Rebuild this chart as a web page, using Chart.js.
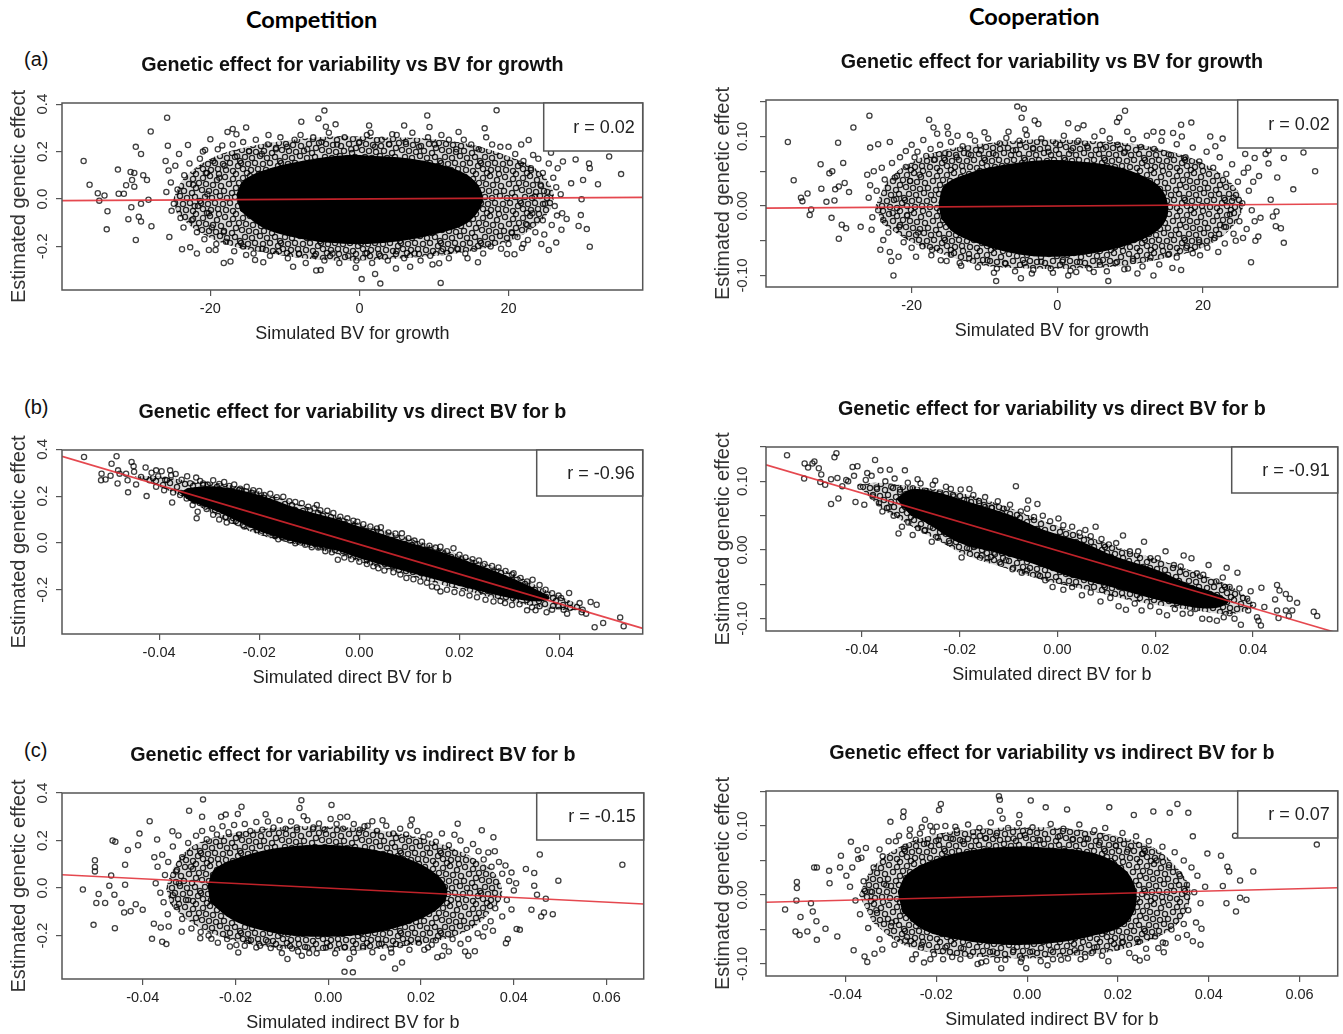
<!DOCTYPE html>
<html>
<head>
<meta charset="utf-8">
<title>Genetic effect for variability</title>
<script src="https://cdn.jsdelivr.net/npm/chart.js@4"></script>
<style>
  html, body { margin: 0; padding: 0; background: #fff; overflow: hidden; }
  body { width: 1343px; height: 1034px; position: relative; }
  canvas { position: absolute; }
  .head { position: absolute; font: bold 23.5px Lato, sans-serif; color: #000; }
  .tag { position: absolute; font: 20px "Liberation Sans", sans-serif; color: #111; }
</style>
</head>
<body>
<div class="head" style="left:246px;top:5px">Competition</div>
<div class="head" style="left:969px;top:2px">Cooperation</div>
<div class="tag" style="left:24px;top:48px">(a)</div>
<div class="tag" style="left:24px;top:396px">(b)</div>
<div class="tag" style="left:24px;top:739px">(c)</div>
<canvas id="compGrowth"></canvas>
<canvas id="coopGrowth"></canvas>
<canvas id="compDirect"></canvas>
<canvas id="coopDirect"></canvas>
<canvas id="compIndirect"></canvas>
<canvas id="coopIndirect"></canvas>
<script>
// ...Edge arrays are rougher estimates where the rings start to overlap.
// The merged middle of each cloud is not individual data: it is two outlines read the same way,
// a solid core and a shell filled with a ring texture (see ringTile), so no values are implied there.
const compGrowthPts = [[-37,.16],[-36.2,.06],[-35.1,.024],[-34.2,.015],[-34.9,-.007],[-33.8,-.052],[-33.9,-.128],[-32.4,.124],[-32.3,.022],[-31.6,.022],[-31.3,.058],[-30.7,.114],[-30.2,.11],[-30,.22],[-29.3,.19],[-29,.1],[-28.5,.08],[-28,.285],[-25.8,.343],[-25.7,.225],[-30.5,.08],[-30.2,.052],[-28.3,-.003],[-29.3,-.02],[-30.6,-.035],[-31,-.085],[-29.6,-.075],[-29.3,-.095],[-27.9,-.115],[-30,-.173],[-25.5,-.16],[-23.8,-.212],[-23,.228],[-21.8,-.23],[-20,.252],[-20.7,.207],[-18.4,.226],[-17.7,.283],[-17,.295],[-16.5,.273],[-15.2,.302],[-12.2,.27],[-7.8,.326],[-5.5,.34],[-4.7,.373],[-4.5,.305],[-3.2,.315],[1.3,.31],[1.5,.28],[4.4,.273],[6,.31],[9.1,.352],[9.4,.304],[13.3,.283],[16.8,.298],[18.4,.374],[17,.26],[22.7,.249],[23.3,.186],[25.7,.195],[27.3,.158],[29,.167],[30.8,.15],[33.5,.179],[35.1,.105],[32,.062],[28.4,.066],[30.9,.13],[30,.08],[29.8,-.001],[29.7,-.068],[29.4,-.114],[30.5,-.127],[30.9,-.201],[27.8,-.084],[27.1,-.13],[26.4,-.184],[25.4,-.215],[24.4,-.19],[22.6,-.173],[21.8,-.207],[20.8,-.233],[19.8,-.232],[15.9,-.267],[14.5,-.25],[10.9,-.354],[10.7,-.271],[9.8,-.276],[6.8,-.286],[4.9,-.293],[2.8,-.357],[2.1,-.316],[.3,-.338],[-.5,-.29],[-5.2,-.3],[-5.8,-.302],[-8.9,-.286],[-12.9,-.267],[-14,-.257],[-15.2,-.236],[-17.3,-.264],[-18.2,-.27],[-19.3,-.215],[-20.2,-.215],[-22.7,-.204]];
const compGrowthEdge = [[-26,.16],[-25.6,.12],[-25.3,.07],[-25.9,.03],[-24.7,.14],[-24.2,.19],[-24.4,.04],[-24.9,-.02],[-25.2,-.05],[-24,-.08],[-23.6,-.12],[-23.5,.1],[-22.8,.15],[-22.3,.06],[-22.1,-.03],[-22.5,-.09],[-21.8,-.14],[-21.4,.17],[-21,.2],[-20.6,.11],[-20.4,.02],[-20.2,-.06],[-20.8,-.17],[-19.8,-.12],[-19.6,.16],[-19,.21],[-18.8,.09],[-19.2,-.19],[-18.2,-.14],[-18.1,.14],[-17,.23],[-16.4,.18],[-15.6,.24],[-14.8,.2],[-13.9,.25],[-13.1,.19],[-12.3,.23],[-11.2,.21],[-10.6,.26],[-9.7,.22],[-8.7,.25],[-7.9,.27],[-7,.21],[-6.2,.26],[-5.1,.24],[-4.1,.28],[-3,.23],[-2,.26],[-1.1,.21],[0,.24],[1,.27],[2.1,.22],[3,.25],[4,.23],[5,.27],[6.2,.24],[7.1,.28],[8,.22],[9.2,.26],[10.1,.23],[11,.27],[12,.25],[13,.21],[14,.25],[15,.23],[16,.21],[17.8,.23],[18.9,.22],[20,.22],[20.9,.19],[21.7,.23],[22,.16],[23,.13],[24,.17],[24.6,.11],[25.4,.15],[26,.09],[26.6,.13],[24.3,.06],[25.2,.03],[26.4,.05],[27,.02],[23.5,.01],[24.9,-.02],[26.2,-.03],[27.2,-.06],[23.2,-.06],[24.6,-.09],[25.8,-.11],[26.5,-.07],[22.5,-.11],[23.6,-.14],[24.8,-.15],[21.2,-.16],[22,-.19],[20,-.19],[20.4,-.14],[19,-.21],[17.6,-.2],[16.6,-.23],[15.4,-.21],[14.2,-.23],[13.1,-.21],[12,-.25],[11,-.22],[9.5,-.24],[8.2,-.26],[7.4,-.23],[6,-.25],[5,-.22],[3.8,-.26],[2.8,-.24],[1.7,-.27],[.8,-.23],[-.4,-.26],[-1.5,-.24],[-2.7,-.27],[-3.6,-.23],[-4.7,-.26],[-6,-.24],[-7.2,-.27],[-8.1,-.23],[-9.6,-.25],[-10.8,-.22],[-12,-.24],[-13,-.21],[-14.2,-.23],[-15.6,-.2],[-16.8,-.22],[-17.9,-.18]];
const compGrowthCore = [[-16.5,.02],[-15.5,.08],[-12,.13],[-7,.165],[-2,.185],[3,.18],[8,.165],[12,.135],[15,.09],[16.5,.02],[16,-.05],[14,-.11],[10,-.15],[6,-.175],[1,-.19],[-4,-.185],[-9,-.16],[-13,-.12],[-16,-.05]];
const compGrowthShell = [[-25,0],[-23.5,.09],[-20,.17],[-15,.22],[-9,.25],[-3,.265],[3,.26],[9,.255],[15,.23],[20,.18],[24,.12],[26,.03],[25.5,-.05],[23,-.13],[19,-.19],[13,-.23],[6,-.25],[0,-.26],[-6,-.255],[-12,-.23],[-18,-.19],[-22,-.13],[-24.5,-.06]];

const coopGrowthPts = [[-37,.092],[-36.2,.037],[-34.3,.018],[-35.2,.012],[-35,.007],[-34,-.013],[-33.8,-.005],[-32.5,.06],[-32.4,.025],[-31.7,.006],[-31.3,.047],[-30.9,.05],[-31,-.017],[-30.6,.008],[-30.1,.091],[-30.5,.024],[-30,.028],[-29.4,.062],[-29.2,.033],[-28.6,.02],[-30,-.047],[-29.6,-.027],[-29,-.032],[-28,.113],[-25.8,.13],[-27,-.03],[-25.5,-.034],[-24.3,-.063],[-23.9,-.049],[-23,-.066],[-22.8,-.079],[-22.5,-.1],[-21.8,-.073],[-23,.092],[-24.6,.089],[-25.7,.084],[-20,.088],[-20.8,.079],[-18.4,.095],[-17.6,.124],[-17,.113],[-16.5,.104],[-15.1,.114],[-15,.104],[-13.7,.101],[-10,.106],[-12,.102],[-6.7,.107],[-5.5,.143],[-4.6,.14],[-4.9,.127],[-4.4,.11],[-3.1,.123],[-2.6,.118],[1.5,.119],[2.8,.112],[3.6,.116],[6.2,.108],[8.2,.121],[8.5,.127],[9.3,.137],[9.6,.107],[13.2,.107],[14.4,.106],[15.9,.105],[17,.117],[18.4,.12],[17.1,.1],[21,.1],[21.7,.086],[22.7,.097],[25.8,.075],[27.1,.069],[28.6,.075],[29,.08],[31.1,.069],[33.8,.077],[35.4,.05],[32.4,.024],[29,.061],[30.2,.041],[27.7,.043],[26.2,.055],[29.3,.009],[30.1,-.008],[29.6,-.015],[30,-.029],[30.7,-.032],[31.1,-.053],[27.9,-.017],[27.1,-.022],[27.6,-.044],[27.2,-.05],[26.6,-.081],[25.5,-.046],[24.5,-.05],[19.6,-.071],[17,-.092],[15.8,-.089],[13.2,-.1],[11,-.097],[9.7,-.09],[7,-.108],[5,-.095],[2.6,-.095],[1.5,-.1],[-.6,-.096],[-3.5,-.097],[-5,-.104],[-8.4,-.108],[-8.7,-.096],[-13.2,-.086],[-15.2,-.079],[-17.3,-.071],[-19.4,-.073]];
const coopGrowthEdge = [[-26.1,.045],[-25.7,.03],[-25.2,.05],[-25.9,.012],[-24.8,.022],[-24.1,.055],[-23.7,.038],[-24.6,-.006],[-25.4,-.016],[-23.9,-.02],[-23.2,-.038],[-22.7,.062],[-22.3,.041],[-21.6,.07],[-22.1,.01],[-22.6,-.01],[-21.7,-.03],[-21.1,-.052],[-20.8,.056],[-20.2,.036],[-20.6,-.014],[-20,-.06],[-19.6,.07],[-19.2,.078],[-18.9,.045],[-19.1,-.038],[-18.5,-.058],[-18,.072],[-17.4,.082],[-16.8,.067],[-16.1,.088],[-15.4,.076],[-14.6,.092],[-13.8,.07],[-13,.086],[-12.2,.075],[-11.3,.094],[-10.5,.08],[-9.5,.097],[-8.8,.076],[-7.9,.09],[-7,.098],[-6.1,.08],[-5.2,.094],[-4.2,.102],[-3.3,.082],[-2.2,.097],[-1.2,.078],[-.2,.09],[.9,.101],[1.9,.08],[2.9,.094],[4.1,.086],[5.1,.1],[6.3,.082],[7.2,.097],[8.3,.088],[9.3,.078],[10.4,.096],[11.5,.085],[12.3,.101],[13.3,.082],[14.3,.094],[15.3,.074],[16.4,.089],[17.6,.07],[18.6,.084],[19.5,.064],[20.5,.078],[21.4,.055],[22.3,.07],[23.2,.046],[24,.06],[24.8,.035],[25.6,.048],[26.3,.022],[26.9,.035],[24.2,.012],[25.4,.004],[26.7,-.006],[23.7,-.012],[25,-.022],[26,-.033],[22.9,-.03],[24.2,-.04],[23,-.054],[21.6,-.046],[22.1,-.066],[20.6,-.06],[19.5,-.052],[18.6,-.068],[17.7,-.06],[16.4,-.074],[15.2,-.07],[14,-.084],[12.8,-.074],[11.7,-.087],[10.4,-.076],[9.2,-.091],[8,-.082],[6.8,-.094],[5.8,-.08],[4.4,-.09],[3.1,-.081],[1.8,-.093],[.7,-.08],[-.9,-.09],[-2.2,-.08],[-3.3,-.092],[-4.5,-.082],[-5.8,-.094],[-7.1,-.083],[-8.3,-.09],[-9.6,-.078],[-10.9,-.088],[-12.1,-.075],[-13.4,-.082],[-14.6,-.07],[-16,-.078],[-17.2,-.063]];
const coopGrowthCore = [[-16.3,.005],[-15.5,.03],[-12,.048],[-7,.06],[-2,.066],[3,.064],[8,.057],[12,.042],[14.5,.022],[15.2,-.01],[13.8,-.035],[10,-.055],[5,-.068],[0,-.073],[-5,-.07],[-10,-.057],[-14,-.04],[-16,-.018]];
const coopGrowthShell = [[-25,0],[-23,.04],[-19.5,.066],[-15,.082],[-8,.092],[-2,.096],[4,.094],[10,.09],[15,.08],[20,.062],[24,.032],[25.5,0],[23.5,-.036],[19.5,-.062],[14,-.077],[8,-.087],[2,-.09],[-4,-.09],[-10,-.086],[-15,-.072],[-20,-.052],[-24,-.026]];

const compDirectPts = [[-.055,.367],[-.0515,.296],[-.0516,.268],[-.0507,.271],[-.0497,.287],[-.0495,.338],[-.0485,.37],[-.0482,.31],[-.0483,.254],[-.0479,.296],[-.0466,.296],[-.0463,.268],[-.0462,.216],[-.0455,.346],[-.0451,.328],[-.045,.304],[-.0446,.25],[-.0427,.322],[-.0425,.2],[-.0436,.282],[-.0419,.268],[-.0406,.31],[-.0395,.306],[-.0376,.289],[-.0374,.173],[-.0326,.279],[-.0325,.105],[-.0323,.133],[-.0333,.162],[-.0312,.254],[-.0265,.087],[-.0235,.223],[-.0215,.214],[-.0205,.055],[-.0162,.016],[-.0128,-.001],[-.0085,.162],[-.0064,.138],[-.0043,-.072],[-.0004,.091],[.0043,.067],[.0038,-.108],[.0085,.041],[.0094,-.15],[.0162,-.207],[.0145,-.186],[.0162,-.016],[.0188,-.023],[.0239,-.075],[.0265,-.098],[.0252,-.243],[.0291,-.257],[.0308,-.129],[.0346,-.157],[.0335,-.288],[.0352,-.288],[.0374,-.296],[.0403,-.235],[.0419,-.214],[.0421,-.278],[.0415,-.302],[.044,-.257],[.0446,-.285],[.0462,-.252],[.0474,-.264],[.0444,-.296],[.0453,-.302],[.047,-.36],[.0487,-.342],[.0521,-.318],[.0528,-.356]];
const compDirectEdge = [[-.0415,.3],[-.0402,.285],[-.0388,.27],[-.0378,.31],[-.0367,.295],[-.0355,.27],[-.0344,.285],[-.0338,.255],[-.0406,.24],[-.039,.225],[-.0372,.215],[-.0358,.205],[-.0345,.19],[-.033,.18],[-.0318,.265],[-.0303,.25],[-.0292,.268],[-.028,.252],[-.027,.26],[-.026,.243],[-.025,.25],[-.0238,.232],[-.0225,.24],[-.0212,.225],[-.02,.222],[-.019,.205],[-.0178,.21],[-.0165,.195],[-.0152,.197],[-.014,.178],[-.0128,.175],[-.0115,.17],[-.0102,.155],[-.009,.148],[-.0078,.14],[-.0052,.128],[-.0038,.112],[-.0024,.105],[-.0012,.095],[.0008,.08],[.0022,.07],[.0035,.062],[.0058,.045],[.0072,.04],[.0098,.02],[.011,.01],[.0125,.005],[.014,-.012],[.0152,-.02],[.0175,-.035],[.02,-.05],[.0212,-.062],[.0226,-.07],[.025,-.09],[.0278,-.105],[.0292,-.12],[.0305,-.135],[.0322,-.15],[.0335,-.165],[.036,-.18],[.0372,-.2],[.0385,-.215],[.0398,-.225],[-.0305,.145],[-.0292,.12],[-.028,.1],[-.0268,.11],[-.0255,.095],[-.0242,.085],[-.023,.07],[-.0218,.078],[-.0195,.052],[-.018,.04],[-.0168,.03],[-.0152,.022],[-.0138,.01],[-.0122,.006],[-.0108,-.008],[-.0095,-.018],[-.0082,-.02],[-.0068,-.035],[-.0055,-.04],[-.003,-.062],[-.0016,-.07],[0,-.08],[.0015,-.09],[.0028,-.1],[.005,-.118],[.0068,-.125],[.0082,-.135],[.0108,-.155],[.0122,-.165],[.0135,-.17],[.0155,-.19],[.0175,-.2],[.019,-.21],[.0205,-.215],[.022,-.225],[.0235,-.232],[.0268,-.25],[.0282,-.248],[.0305,-.265],[.032,-.262],[.0345,-.275],[.036,-.27],[.0385,-.285],[.0398,-.27],[.0408,-.285]];
const compDirectCore = [[-.036,.215],[-.034,.235],[-.028,.24],[-.02,.205],[-.012,.145],[-.005,.105],[0,.07],[.008,.015],[.015,-.03],[.022,-.08],[.03,-.145],[.036,-.205],[.038,-.235],[.036,-.25],[.03,-.235],[.022,-.195],[.015,-.155],[.008,-.115],[0,-.065],[-.005,-.03],[-.012,0],[-.02,.05],[-.028,.13],[-.034,.18]];
const compDirectShell = [[-.045,.285],[-.04,.285],[-.034,.265],[-.028,.255],[-.02,.22],[-.012,.165],[-.005,.12],[0,.085],[.008,.035],[.015,-.015],[.022,-.065],[.03,-.125],[.038,-.21],[.045,-.28],[.04,-.285],[.03,-.25],[.022,-.21],[.015,-.17],[.008,-.13],[0,-.08],[-.005,-.045],[-.012,-.01],[-.02,.035],[-.028,.11],[-.036,.205]];

const coopDirectPts = [[-.0553,.138],[-.0517,.126],[-.0518,.104],[-.051,.12],[-.0501,.126],[-.0497,.129],[-.0488,.119],[-.0483,.11],[-.0485,.099],[-.0475,.095],[-.0463,.067],[-.0463,.103],[-.0452,.141],[-.0456,.135],[-.0448,.075],[-.045,.105],[-.044,.093],[-.0432,.102],[-.0419,.121],[-.0409,.122],[-.0413,.07],[-.0389,.112],[-.0373,.131],[-.0362,.116],[-.0343,.117],[-.0312,.116],[-.0358,.056],[-.0325,.024],[-.0318,.034],[-.0296,.022],[-.0286,.103],[-.025,.101],[-.0257,.012],[-.0218,.089],[-.018,.089],[-.0196,-.011],[-.0143,-.012],[-.0085,.093],[-.006,.072],[-.0041,.067],[.0002,.046],[-.0073,-.033],[-.0025,-.044],[-.001,-.054],[.0078,.034],[.0057,.029],[.0134,.021],[.0177,.012],[.0221,-.002],[.0258,-.008],[.0274,-.012],[.014,-.087],[.0309,-.022],[.0346,-.026],[.0368,-.033],[.0224,-.095],[.0256,-.093],[.0296,-.1],[.0311,-.101],[.0326,-.103],[.0375,-.109],[.0408,-.098],[.0416,-.11],[.0411,-.103],[.0423,-.083],[.0388,-.071],[.0417,-.055],[.0449,-.051],[.0454,-.059],[.0467,-.064],[.0475,-.071],[.049,-.077],[.0449,-.088],[.0467,-.088],[.048,-.088],[.0473,-.096],[.0452,-.099],[.0524,-.09],[.0531,-.096],[.0445,-.072]];
const coopDirectEdge = [[-.0428,.1],[-.0416,.108],[-.0403,.092],[-.0392,.102],[-.038,.108],[-.037,.091],[-.0352,.1],[-.034,.092],[-.0333,.104],[-.0322,.088],[-.0306,.098],[-.0296,.09],[-.028,.097],[-.0268,.086],[-.0255,.095],[-.0242,.082],[-.0228,.092],[-.0212,.078],[-.0198,.088],[-.0185,.072],[-.0172,.08],[-.016,.068],[-.0148,.077],[-.0135,.062],[-.0122,.071],[-.011,.06],[-.0097,.066],[-.0075,.056],[-.0062,.06],[-.0048,.048],[-.003,.05],[-.0015,.042],[.0012,.036],[.003,.034],[.0045,.025],[.0068,.02],[.009,.016],[.0105,.008],[.012,.01],[.0148,-.002],[.0165,-.002],[.019,-.012],[.0205,-.012],[.0238,-.022],[.0252,-.024],[.0285,-.034],[.0298,-.036],[.0325,-.046],[.0338,-.04],[.0352,-.054],[.0372,-.056],[.0395,-.06],[-.0395,.066],[-.0378,.078],[-.0365,.068],[-.0345,.062],[-.0335,.05],[-.0305,.04],[-.0285,.032],[-.0272,.028],[-.026,.034],[-.0245,.018],[-.0232,.026],[-.022,.01],[-.0205,.018],[-.018,.002],[-.0168,.006],[-.0155,-.008],[-.013,-.004],[-.0118,-.018],[-.0105,-.015],[-.0092,-.028],[-.0062,-.03],[-.004,-.036],[.0012,-.058],[.003,-.054],[.005,-.066],[.0068,-.062],[.0088,-.075],[.0108,-.07],[.0125,-.082],[.0158,-.078],[.0172,-.088],[.019,-.082],[.0208,-.09],[.024,-.086],[.0272,-.092],[.0282,-.086],[.034,-.098],[.0352,-.092],[.0362,-.1],[.039,-.088],[.04,-.08]];
const coopDirectCore = [[-.033,.075],[-.03,.088],[-.025,.085],[-.018,.07],[-.01,.052],[-.003,.03],[.005,.012],[.012,-.01],[.02,-.028],[.027,-.05],[.032,-.062],[.035,-.075],[.032,-.085],[.025,-.08],[.018,-.068],[.01,-.052],[.003,-.04],[-.005,-.02],[-.012,-.005],[-.02,.01],[-.027,.04],[-.03,.05]];
const coopDirectShell = [[-.041,.095],[-.037,.098],[-.03,.093],[-.024,.088],[-.018,.08],[-.01,.062],[-.002,.04],[.006,.02],[.014,0],[.022,-.017],[.03,-.037],[.036,-.055],[.04,-.08],[.036,-.093],[.03,-.09],[.022,-.082],[.014,-.072],[.006,-.058],[-.002,-.046],[-.01,-.028],[-.018,-.01],[-.024,.012],[-.03,.035],[-.036,.06]];

const compIndirectPts = [[-.0529,-.006],[-.0503,.117],[-.0503,.089],[-.0503,.07],[-.0495,-.025],[-.05,-.063],[-.0481,-.063],[-.0506,-.155],[-.046,-.169],[-.0472,.01],[-.0468,.053],[-.0461,-.028],[-.0465,.2],[-.0459,.195],[-.0446,-.063],[-.044,-.103],[-.0426,-.098],[-.0432,.16],[-.0438,.098],[-.0438,.014],[-.0407,.229],[-.041,.18],[-.0415,-.068],[-.04,-.091],[-.0385,.281],[-.038,-.214],[-.0376,-.15],[-.0358,-.226],[-.0349,-.236],[-.0361,-.166],[-.0344,-.162],[-.0336,.239],[-.0369,.204],[-.0316,-.184],[-.03,.325],[-.0323,.221],[-.0272,.3],[-.027,.373],[-.0276,-.211],[-.0252,-.214],[-.0231,.3],[-.0221,.309],[-.0195,.312],[-.0187,.342],[-.0212,-.246],[-.0194,-.271],[-.018,-.243],[-.0147,-.243],[-.0135,.311],[-.0124,-.253],[-.01,-.274],[-.0088,-.299],[-.0065,-.267],[-.0057,-.285],[-.0041,-.274],[-.0058,.37],[-.0062,.337],[-.0053,.302],[.0007,.35],[.0005,.291],[.0026,.298],[.0041,.3],[.0035,-.353],[.0053,-.355],[.0046,-.298],[.0078,.26],[.0095,.281],[.0117,.285],[.0118,-.292],[.0144,-.339],[.0159,-.314],[.0136,-.271],[.018,.288],[.0177,.263],[.0207,-.26],[.0223,-.239],[.0235,-.291],[.0246,-.285],[.026,-.267],[.0279,.271],[.0272,.224],[.0295,-.267],[.0302,-.285],[.0316,-.266],[.0331,.243],[.0356,.214],[.0324,.155],[.0359,.155],[.0334,-.204],[.0383,-.232],[.0387,-.215],[.0406,-.172],[.0413,-.176],[.0456,.141],[.0426,.08],[.0444,.063],[.0634,.098],[.0496,.031],[.0484,-.11],[.0465,-.103],[.0459,-.12],[.0438,-.091],[.0469,-.045],[.0444,.01],[.045,-.028]];
const compIndirectEdge = [[-.0375,.13],[-.0368,.09],[-.0358,.14],[-.0352,.055],[-.0345,.11],[-.0335,.175],[-.0328,.07],[-.0322,.02],[-.0315,.13],[-.0302,.19],[-.0296,.09],[-.0372,.02],[-.0362,-.02],[-.0355,-.06],[-.0346,-.11],[-.0335,-.03],[-.0327,-.08],[-.0315,-.13],[-.0302,-.05],[-.0295,-.17],[-.0285,.22],[-.0272,.24],[-.0262,.205],[-.025,.25],[-.024,.225],[-.0228,.26],[-.0215,.235],[-.0203,.265],[-.0192,.225],[-.018,.27],[-.0168,.24],[-.0155,.278],[-.0142,.245],[-.013,.28],[-.0118,.255],[-.0105,.285],[-.0092,.25],[-.008,.28],[-.0068,.255],[-.0045,.285],[-.0032,.255],[-.002,.272],[-.0008,.245],[.0018,.27],[.0032,.25],[.0055,.27],[.0068,.245],[.0085,.262],[.0105,.24],[.0125,.262],[.014,.23],[.0155,.25],[.0168,.225],[.0192,.24],[.0205,.215],[.0218,.225],[.0232,.195],[.0245,.23],[.026,.18],[.0285,.2],[.0298,.16],[.0312,.185],[.0335,.12],[.0345,.15],[.0352,.09],[.0368,.11],[.0375,.06],[.0382,.095],[.039,.03],[.0395,.065],[.04,-.01],[.0405,.02],[.0385,-.05],[.0395,-.09],[.0375,-.12],[.036,-.085],[.035,-.14],[.0355,-.18],[.0338,-.165],[.0322,-.19],[.0302,-.215],[.0285,-.235],[.0268,-.215],[.025,-.245],[.0232,-.22],[.0215,-.25],[.0195,-.23],[.0175,-.26],[.0155,-.24],[.0135,-.255],[.0115,-.235],[.0095,-.27],[.0075,-.245],[.0055,-.27],[.0035,-.25],[.0015,-.275],[-.0005,-.25],[-.0025,-.275],[-.0045,-.25],[-.0078,-.255],[-.0105,-.25],[-.013,-.225],[-.0155,-.25],[-.0172,-.22],[-.0198,-.24],[-.0218,-.215],[-.0238,-.23],[-.0258,-.2],[-.0275,-.185]];
const compIndirectCore = [[-.026,.01],[-.0245,.08],[-.019,.13],[-.012,.165],[-.005,.18],[.002,.18],[.01,.16],[.017,.125],[.0225,.07],[.0255,.005],[.025,-.06],[.021,-.12],[.015,-.165],[.008,-.195],[0,-.205],[-.008,-.2],[-.015,-.175],[-.021,-.13],[-.0255,-.06]];
const compIndirectShell = [[-.035,0],[-.033,.1],[-.029,.18],[-.022,.225],[-.014,.25],[-.005,.26],[.005,.255],[.014,.235],[.022,.2],[.03,.14],[.036,.06],[.0375,-.03],[.035,-.1],[.031,-.17],[.024,-.22],[.014,-.25],[.004,-.265],[-.006,-.26],[-.016,-.24],[-.024,-.2],[-.03,-.14],[-.034,-.07]];

const coopIndirectPts = [[-.0533,-.021],[-.0507,.019],[-.0507,.01],[-.0508,-.008],[-.051,-.053],[-.0501,-.058],[-.0499,-.032],[-.0484,-.053],[-.0476,-.012],[-.0472,-.024],[-.0469,.04],[-.0463,.04],[-.0464,-.038],[-.0463,-.065],[-.0436,.035],[-.0435,.017],[-.0444,-.049],[-.0418,-.06],[-.041,.057],[-.0412,.04],[-.0388,.077],[-.0382,-.08],[-.0373,.065],[-.0365,.054],[-.0358,-.089],[-.0352,-.097],[-.0336,-.085],[-.0319,-.079],[-.0325,.066],[-.0301,.106],[-.0289,.078],[-.0272,.121],[-.0273,.113],[-.0259,.086],[-.0236,.089],[-.0225,.109],[-.0253,-.093],[-.0227,-.098],[-.0213,-.093],[-.019,.132],[-.0194,.123],[-.0185,-.093],[-.0213,.1],[-.0199,.099],[-.0158,.099],[-.0147,-.093],[-.0109,-.1],[-.0101,-.098],[-.0066,-.094],[-.0057,-.106],[-.0014,-.097],[-.0002,-.106],[-.0062,.143],[-.006,.138],[-.006,.122],[-.0054,.111],[-.0017,.116],[.0008,.137],[.0041,.127],[.0088,.124],[.0045,-.102],[.0057,-.093],[.009,-.092],[.0118,-.093],[.0181,.127],[.0179,-.096],[.0142,-.084],[.0235,.116],[.0238,-.091],[.0248,-.095],[.0264,-.091],[.0278,.121],[.0314,.119],[.0331,.132],[.0355,.119],[.0365,.085],[.0458,.086],[.0638,.073],[.0397,.06],[.0427,.057],[.0498,.034],[.0483,-.007],[.0469,-.004],[.0469,.021],[.046,-.024],[.0384,-.049],[.0382,-.072],[.0365,-.067],[.0299,-.069],[.0301,-.083],[.0289,-.077],[.0209,-.069],[.0441,.041],[.0445,.034],[.0431,.013],[.0439,-.012]];
const coopIndirectEdge = [[-.0398,.028],[-.039,.012],[-.0385,.04],[-.0378,-.008],[-.0372,.052],[-.0368,-.028],[-.036,.02],[-.0355,.068],[-.035,-.048],[-.0345,.005],[-.0338,.04],[-.0332,-.022],[-.0325,-.064],[-.0318,.056],[-.031,.014],[-.0305,.078],[-.0298,-.04],[-.0292,-.072],[-.0282,.086],[-.0268,.07],[-.0258,.095],[-.0245,.08],[-.0232,.098],[-.022,.075],[-.0208,.092],[-.0195,.08],[-.018,.1],[-.0168,.082],[-.0155,.094],[-.0142,.078],[-.013,.102],[-.0118,.085],[-.0105,.097],[-.0092,.082],[-.008,.105],[-.0068,.086],[-.0042,.097],[-.003,.082],[-.0018,.104],[-.0005,.087],[.0012,.098],[.0025,.08],[.0052,.103],[.0068,.084],[.008,.096],[.01,.08],[.0115,.102],[.013,.082],[.0148,.094],[.016,.076],[.0172,.097],[.0195,.072],[.021,.09],[.0222,.066],[.024,.085],[.0255,.06],[.0268,.078],[.0285,.05],[.0298,.07],[.0312,.04],[.0325,.062],[.0335,.03],[.0345,.05],[.0352,.015],[.0362,.04],[.0368,.004],[.0375,.028],[.0382,-.012],[.0392,.012],[.0355,-.022],[.0372,-.04],[.0345,-.042],[.0352,-.058],[.0332,-.062],[.0318,-.05],[.0305,-.07],[.0282,-.06],[.0262,-.078],[.0245,-.068],[.0225,-.084],[.0198,-.076],[.0165,-.088],[.0148,-.076],[.0128,-.09],[.0105,-.08],[.0075,-.094],[.0052,-.08],[.003,-.096],[.0012,-.082],[-.0012,-.092],[-.003,-.08],[-.0048,-.094],[-.0075,-.082],[-.009,-.096],[-.0125,-.088],[-.014,-.078],[-.0165,-.09],[-.018,-.076],[-.0205,-.086],[-.0232,-.072],[-.0245,-.086],[-.0268,-.066]];
const coopIndirectCore = [[-.0285,.005],[-.0265,.03],[-.021,.05],[-.013,.064],[-.004,.07],[.006,.068],[.015,.06],[.021,.04],[.0238,.012],[.0238,-.02],[.021,-.045],[.014,-.06],[.005,-.07],[-.005,-.072],[-.015,-.065],[-.023,-.05],[-.0275,-.025]];
const coopIndirectShell = [[-.037,0],[-.034,.04],[-.028,.07],[-.02,.088],[-.01,.096],[0,.098],[.01,.096],[.02,.085],[.028,.068],[.033,.04],[.036,.005],[.034,-.035],[.029,-.06],[.02,-.08],[.01,-.088],[0,-.092],[-.01,-.09],[-.02,-.085],[-.028,-.07],[-.034,-.04]];

const compGrowthFit = [[-39.9,-.007],[38,.007]];
const coopGrowthFit = [[-40,-.003],[38.5,.003]];
const compDirectFit = [[-.0594,.37],[.0566,-.365]];
const coopDirectFit = [[-.0596,.124],[.0573,-.121]];
const compIndirectFit = [[-.0574,.056],[.068,-.067]];
const coopIndirectFit = [[-.0575,-.0105],[.0684,.0105]];

const growthTicks = [-20, 0, 20];
const directTicks = [-0.04, -0.02, 0, 0.02, 0.04];
const indirectTicks = [-0.04, -0.02, 0, 0.02, 0.04, 0.06];
const compEffectTicks = [-0.2, 0, 0.2, 0.4];
const coopEffectTicks = [-0.10, -0.05, 0, 0.05, 0.10, 0.15];
const coopEffectLabels = [-0.10, 0, 0.10];

const WIDE = '"Liberation Sans", sans-serif';
const LEFT_GUTTER = 62, TOP_GUTTER = 49, BOTTOM_GUTTER = 58, RIGHT_GUTTER = 4;

// fill texture for the shell only, in tile pixels, not chart data
const ringTile = [[3,4],[10,2],[17,6],[25,3],[33,5],[39,9],[6,10],[13,11],[21,12],[29,10],[36,14],[2,16],[9,17],[16,18],[24,17],[32,19],[5,23],[12,24],[20,22],[27,24],[35,23],[40,27],[8,30],[15,29],[23,30],[30,29],[38,32],[3,35],[11,36],[18,35],[26,36],[33,37],[1,29],[19,40],[36,40],[7,39]];

function shellTexture() {
  const tile = document.createElement('canvas');
  tile.width = tile.height = 40;
  const c = tile.getContext('2d');
  c.fillStyle = 'rgba(0,0,0,0.14)';
  c.fillRect(0, 0, 40, 40);
  c.strokeStyle = 'rgba(0,0,0,0.85)';
  c.lineWidth = 1.3;
  ringTile.forEach(r => {
    [-40, 0, 40].forEach(dx => [-40, 0, 40].forEach(dy => {
      c.beginPath();
      c.arc(r[0] + dx, r[1] + dy, 2.6, 0, Math.PI * 2);
      c.stroke();
    }));
  });
  return c.createPattern(tile, 'repeat');
}

// frame round the plot and the white "r =" box in the corner
const framePlugin = {
  id: 'frame',
  afterDatasetsDraw(chart, args, opts) {
    const { ctx, chartArea: a } = chart;
    ctx.save();
    ctx.strokeStyle = '#555';
    ctx.lineWidth = 1.5;
    ctx.strokeRect(a.left, a.top, a.width, a.height);
    ctx.fillStyle = '#fff';
    ctx.fillRect(a.right - opts.w, a.top, opts.w, opts.h);
    ctx.strokeRect(a.right - opts.w, a.top, opts.w, opts.h);
    ctx.fillStyle = '#222';
    ctx.font = '18px ' + WIDE;
    ctx.textAlign = 'right';
    ctx.textBaseline = 'middle';
    ctx.fillText(opts.text, a.right - 8, a.top + opts.h / 2 + 1);
    ctx.restore();
  }
};

const toXY = pts => pts.map(p => ({ x: p[0], y: p[1] }));

function outline(pts, colour, order) {
  return { type: 'line', data: toXY(pts), fill: 'shape', backgroundColor: colour, borderWidth: 0, pointRadius: 0, tension: 0.35, order: order };
}

function panel(id, p) {
  const canvas = document.getElementById(id);
  const width = p.box[1] - p.box[0] + LEFT_GUTTER + RIGHT_GUTTER;
  const height = p.box[3] - p.box[2] + TOP_GUTTER + BOTTOM_GUTTER;
  canvas.width = width;
  canvas.height = height;
  canvas.style.left = (p.box[0] - LEFT_GUTTER) + 'px';
  canvas.style.top = (p.box[2] - TOP_GUTTER) + 'px';
  canvas.style.width = width + 'px';
  canvas.style.height = height + 'px';

  new Chart(canvas, {
    type: 'scatter',
    data: {
      datasets: [
        { type: 'line', data: toXY(p.fit), borderColor: 'rgba(224,40,48,0.85)', borderWidth: 1.6, pointRadius: 0, fill: false, order: 1 },
        { data: toXY(p.pts.concat(p.edge)), borderColor: 'rgba(0,0,0,0.75)', backgroundColor: 'transparent', borderWidth: 1.3, pointRadius: 2.6, order: 2 },
        outline(p.core, '#000', 3),
        outline(p.shell, shellTexture(), 4)
      ]
    },
    plugins: [framePlugin],
    options: {
      responsive: false,
      animation: false,
      events: [],
      plugins: {
        legend: { display: false },
        tooltip: { enabled: false },
        frame: { w: p.rBox[0], h: p.rBox[1], text: p.r },
        title: {
          display: true,
          text: p.title,
          fullSize: false,
          color: '#111',
          font: { family: WIDE, size: 19.7, weight: 'bold', lineHeight: '24px' },
          padding: { top: 0, bottom: 25 }
        }
      },
      scales: {
        x: {
          type: 'linear',
          min: p.xRange[0],
          max: p.xRange[1],
          afterFit: s => { s.height = BOTTOM_GUTTER; },
          afterBuildTicks: s => { s.ticks = p.xTicks.map(v => ({ value: v })); },
          border: { display: false },
          grid: { drawOnChartArea: false, color: '#555', tickLength: 6, lineWidth: 1.2 },
          ticks: {
            color: '#222', padding: 4, maxRotation: 0, autoSkip: false,
            font: { family: WIDE, size: 14.5 },
            callback: v => p.xDigits ? v.toFixed(p.xDigits) : String(v)
          },
          title: { display: true, text: p.xLabel, color: '#222', font: { family: WIDE, size: 18, lineHeight: '24px' }, padding: { top: 0, bottom: 2 } }
        },
        y: {
          type: 'linear',
          min: p.yRange[0],
          max: p.yRange[1],
          afterFit: s => { s.width = LEFT_GUTTER; },
          afterBuildTicks: s => { s.ticks = p.yTicks.map(v => ({ value: v })); },
          border: { display: false },
          grid: { drawOnChartArea: false, color: '#555', tickLength: 6, lineWidth: 1.2 },
          ticks: {
            color: '#333', padding: 0, minRotation: 90, maxRotation: 90, autoSkip: false, crossAlign: 'center',
            font: { family: WIDE, size: 15 },
            callback: v => {
              if (!p.yLabels.some(l => Math.abs(l - v) < 1e-9)) return '';
              return v.toFixed(p.yDigits);
            }
          },
          title: { display: true, text: 'Estimated genetic effect', color: '#333', font: { family: WIDE, size: 20, lineHeight: 1.2 }, padding: { top: 7, bottom: 0 } }
        }
      }
    }
  });
}

panel('compGrowth', {
  box: [62, 644, 103, 290], xRange: [-39.9, 38], yRange: [-0.384, 0.405],
  title: 'Genetic effect for variability vs BV for growth', xLabel: 'Simulated BV for growth',
  xTicks: growthTicks, xDigits: 0, yTicks: compEffectTicks, yLabels: compEffectTicks, yDigits: 1,
  pts: compGrowthPts, edge: compGrowthEdge, core: compGrowthCore, shell: compGrowthShell, fit: compGrowthFit, rBox: [99, 48], r: 'r = 0.02'
});
panel('coopGrowth', {
  box: [766, 1339, 100, 287], xRange: [-40, 38.5], yRange: [-0.1165, 0.1525],
  title: 'Genetic effect for variability vs BV for growth', xLabel: 'Simulated BV for growth',
  xTicks: growthTicks, xDigits: 0, yTicks: coopEffectTicks, yLabels: coopEffectLabels, yDigits: 2,
  pts: coopGrowthPts, edge: coopGrowthEdge, core: coopGrowthCore, shell: coopGrowthShell, fit: coopGrowthFit, rBox: [100, 48], r: 'r = 0.02'
});
panel('compDirect', {
  box: [62, 644, 450, 634], xRange: [-0.0594, 0.0566], yRange: [-0.389, 0.397],
  title: 'Genetic effect for variability vs direct BV for b', xLabel: 'Simulated direct BV for b',
  xTicks: directTicks, xDigits: 2, yTicks: compEffectTicks, yLabels: compEffectTicks, yDigits: 1,
  pts: compDirectPts, edge: compDirectEdge, core: compDirectCore, shell: compDirectShell, fit: compDirectFit, rBox: [106, 46], r: 'r = -0.96'
});
panel('coopDirect', {
  box: [766, 1339, 447, 631], xRange: [-0.0596, 0.0573], yRange: [-0.118, 0.15],
  title: 'Genetic effect for variability vs direct BV for b', xLabel: 'Simulated direct BV for b',
  xTicks: directTicks, xDigits: 2, yTicks: coopEffectTicks, yLabels: coopEffectLabels, yDigits: 2,
  pts: coopDirectPts, edge: coopDirectEdge, core: coopDirectCore, shell: coopDirectShell, fit: coopDirectFit, rBox: [106, 46], r: 'r = -0.91'
});
panel('compIndirect', {
  box: [62, 645, 793, 979], xRange: [-0.0574, 0.068], yRange: [-0.383, 0.4],
  title: 'Genetic effect for variability vs indirect BV for b', xLabel: 'Simulated indirect BV for b',
  xTicks: indirectTicks, xDigits: 2, yTicks: compEffectTicks, yLabels: compEffectTicks, yDigits: 1,
  pts: compIndirectPts, edge: compIndirectEdge, core: compIndirectCore, shell: compIndirectShell, fit: compIndirectFit, rBox: [107, 47], r: 'r = -0.15'
});
panel('coopIndirect', {
  box: [766, 1339, 791, 976], xRange: [-0.0575, 0.0684], yRange: [-0.1174, 0.1507],
  title: 'Genetic effect for variability vs indirect BV for b', xLabel: 'Simulated indirect BV for b',
  xTicks: indirectTicks, xDigits: 2, yTicks: coopEffectTicks, yLabels: coopEffectLabels, yDigits: 2,
  pts: coopIndirectPts, edge: coopIndirectEdge, core: coopIndirectCore, shell: coopIndirectShell, fit: coopIndirectFit, rBox: [100, 47], r: 'r = 0.07'
});
</script>
</body>
</html>
